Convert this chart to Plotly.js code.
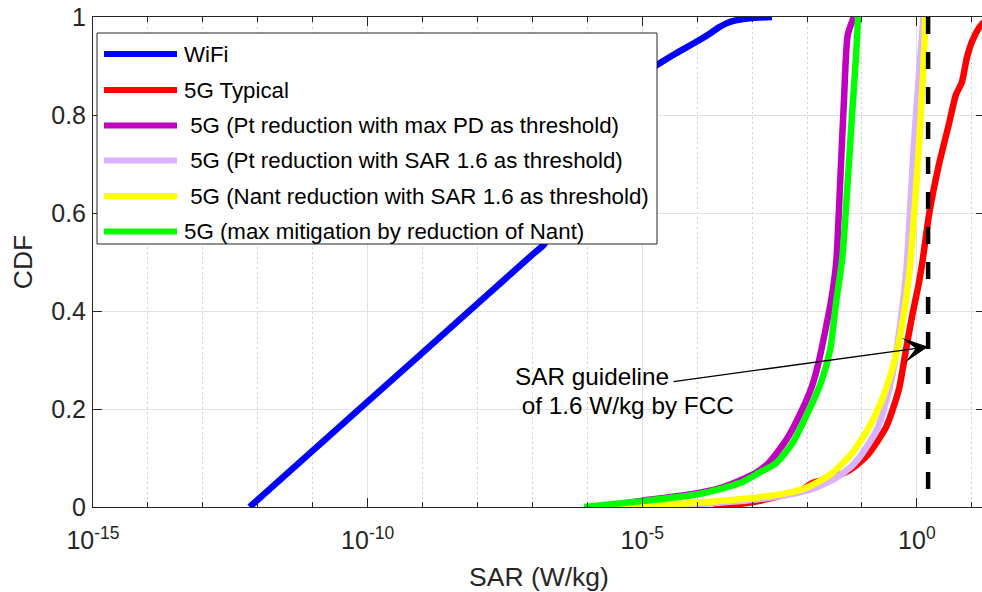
<!DOCTYPE html>
<html>
<head>
<meta charset="utf-8">
<script src="https://cdn.plot.ly/plotly-3.0.1.min.js"></script>
<style>html,body{margin:0;padding:0;overflow:hidden;background:#fff}</style>
</head>
<body>
<div id="chart"></div>
<script>
// ---- data ----
const wifiSAR = [7.1e-13, 1e-10, 1e-8, 1e-7, 1.6e-7, 3.2e-7, 1e-6, 3.2e-6, 7.9e-6, 1.6e-5, 4.0e-5, 9.5e-5, 1.8e-4, 2.5e-4, 3.4e-4, 5.0e-4, 1e-3, 2.3e-3];
const wifiCDF = [0, 0.215, 0.415, 0.515, 0.535, 0.59, 0.69, 0.80, 0.865, 0.897, 0.925, 0.949, 0.968, 0.979, 0.987, 0.993, 0.998, 1.0];

const typicalSAR = [2.0e-4, 7.9e-4, 3.2e-3, 7.9e-3, 1.26e-2, 2.5e-2, 5.1e-2, 8.9e-2, 0.135, 0.275, 0.468, 0.631, 0.813, 1.086, 1.26, 1.66, 2.51, 3.8, 5.13, 6.6, 8.1, 10, 13.5, 20];
const typicalCDF = [0, 0.008, 0.022, 0.035, 0.049, 0.058, 0.071, 0.09, 0.11, 0.163, 0.239, 0.32, 0.388, 0.457, 0.5, 0.596, 0.698, 0.78, 0.841, 0.867, 0.916, 0.949, 0.978, 1.0];

const ptPdSAR = [1.6e-6, 1e-5, 7.9e-5, 2.5e-4, 6.3e-4, 1.26e-3, 2.0e-3, 4.2e-3, 8.1e-3, 1.26e-2, 1.66e-2, 2.75e-2, 3.4e-2, 4.0e-2, 4.7e-2, 5.5e-2, 7.1e-2];
const ptPdCDF = [0, 0.013, 0.026, 0.038, 0.055, 0.072, 0.09, 0.137, 0.198, 0.25, 0.3, 0.422, 0.5, 0.66, 0.83, 0.963, 1.0];

const ptSarSAR = [6.3e-6, 1e-4, 1.26e-3, 5e-3, 1.26e-2, 3.2e-2, 6.3e-2, 9.1e-2, 0.186, 0.282, 0.372, 0.452, 0.562, 0.661, 0.871, 1.12, 1.26, 1.32];
const ptSarCDF = [0, 0.006, 0.016, 0.026, 0.037, 0.058, 0.082, 0.102, 0.157, 0.22, 0.28, 0.34, 0.42, 0.5, 0.73, 0.9, 0.97, 1.0];

const nantSarSAR = [3.4e-6, 7.9e-5, 1.35e-3, 5.0e-3, 1.1e-2, 2.8e-2, 6.6e-2, 0.135, 0.229, 0.355, 0.468, 0.631, 0.776, 1.086, 1.32, 1.40, 1.41];
const nantSarCDF = [0, 0.008, 0.02, 0.03, 0.042, 0.068, 0.11, 0.163, 0.218, 0.28, 0.335, 0.422, 0.51, 0.733, 0.9, 0.97, 1.0];

const maxMitSAR = [8.7e-7, 1e-5, 7.9e-5, 1.8e-4, 6.3e-4, 1.35e-3, 2.75e-3, 5.4e-3, 9.5e-3, 1.78e-2, 2.63e-2, 3.4e-2, 4.4e-2, 5.4e-2, 6.6e-2, 7.8e-2, 8.5e-2];
const maxMitCDF = [0, 0.012, 0.024, 0.032, 0.05, 0.07, 0.09, 0.13, 0.184, 0.253, 0.32, 0.42, 0.51, 0.65, 0.8, 0.92, 1.0];

const guidelineSAR = [1.6, 1.6];
const guidelineCDF = [1, 0];

const seriesNames = ['WiFi', '5G Typical', ' 5G (Pt reduction with max PD as threshold)', ' 5G (Pt reduction with SAR 1.6 as threshold)', ' 5G (Nant reduction with SAR 1.6 as threshold)', '5G (max mitigation by reduction of Nant)'];
const seriesColors = ['#0000ff', '#ff0000', '#bf00bf', '#d9b3ff', '#ffff00', '#00ff00'];

const xTickVals = [1e-15, 1e-10, 1e-5, 1];
const xTickText = ['10<sup>-15</sup>', '10<sup>-10</sup>', '10<sup>-5</sup>', '10<sup>0</sup>'];
const xMinorVals = [1e-14, 1e-13, 1e-12, 1e-11, 1e-9, 1e-8, 1e-7, 1e-6, 1e-4, 1e-3, 1e-2, 1e-1, 10];
const yTickVals = [0, 0.2, 0.4, 0.6, 0.8, 1];
const yTickText = ['0', '0.2', '0.4', '0.6', '0.8', '1'];

const annotationLines = ['SAR guideline', '\u00a0of 1.6 W/kg by FCC'];
const arrowTipCDF = 0.327;

// ---- build ----
const FONT = 'Liberation Sans, Arial, Helvetica, sans-serif';
const xs = [wifiSAR, typicalSAR, ptPdSAR, ptSarSAR, nantSarSAR, maxMitSAR];
const ys = [wifiCDF, typicalCDF, ptPdCDF, ptSarCDF, nantSarCDF, maxMitCDF];

const traces = xs.map((x, i) => ({
  type: 'scatter', mode: 'lines', x: x, y: ys[i], name: seriesNames[i],
  line: {color: seriesColors[i], width: 6.5, shape: 'spline', smoothing: 0.6}, showlegend: false
}));
traces.push({
  type: 'scatter', mode: 'lines', x: guidelineSAR, y: guidelineCDF, name: 'FCC guideline',
  line: {color: '#000000', width: 4.5, dash: '17px,18px'}, showlegend: false
});

// custom legend (MATLAB-like)
const L = 93, T = 17, PW = 892, PH = 490;
const px = v => (v - L) / PW;
const py = v => (T + PH - v) / PH;
const legendRows = [54, 90, 125.5, 160.5, 196, 231.5];
const shapes = [{
  type: 'rect', xref: 'paper', yref: 'paper', layer: 'above',
  x0: px(97), x1: px(657), y0: py(244), y1: py(33),
  line: {color: '#262626', width: 1}, fillcolor: '#ffffff'
}];
const annotations = [];
seriesNames.forEach((n, i) => {
  shapes.push({type: 'line', xref: 'paper', yref: 'paper', layer: 'above',
    x0: px(104), x1: px(177), y0: py(legendRows[i]), y1: py(legendRows[i]),
    line: {color: seriesColors[i], width: 6}});
  annotations.push({xref: 'paper', yref: 'paper', x: px(182), y: py(legendRows[i]),
    xanchor: 'left', yanchor: 'middle', showarrow: false,
    text: n.replace(/^ /, '\u00a0'), font: {family: FONT, size: 22.3, color: '#000000'}});
});
annotations.push({xref: 'x', yref: 'y', x: Math.log10(guidelineSAR[0]), y: arrowTipCDF,
  axref: 'pixel', ayref: 'pixel', ax: -256, ay: 35, text: '', showarrow: true,
  arrowhead: 3, arrowsize: 3.2, arrowwidth: 1.3, arrowcolor: '#000000', standoff: 0});
annotations.push({xref: 'paper', yref: 'paper', x: px(513), y: py(376), xanchor: 'left', yanchor: 'middle',
  showarrow: false, text: annotationLines[0], font: {family: FONT, size: 24.3, color: '#000000'}});
annotations.push({xref: 'paper', yref: 'paper', x: px(513), y: py(405), xanchor: 'left', yanchor: 'middle',
  showarrow: false, text: annotationLines[1], font: {family: FONT, size: 24.3, color: '#000000'}});

const axisCommon = {
  ticks: 'inside', ticklen: 9, tickwidth: 1, tickcolor: '#262626',
  showline: true, linecolor: '#262626', linewidth: 1, mirror: 'ticks',
  showgrid: true, gridcolor: '#e2e2e2', gridwidth: 1, zeroline: false,
  tickfont: {family: FONT, size: 25, color: '#262626'}
};

const layout = {
  width: 985, height: 592,
  margin: {l: L, r: 0, t: T, b: 592 - T - PH, pad: 0},
  paper_bgcolor: '#ffffff', plot_bgcolor: '#ffffff',
  font: {family: FONT, color: '#262626'},
  xaxis: Object.assign({}, axisCommon, {
    type: 'log', range: [-15, 1.24], tickmode: 'array', tickvals: xTickVals, ticktext: xTickText,
    ticklabelstandoff: 11,
    title: {text: 'SAR (W/kg)', font: {family: FONT, size: 26.5, color: '#262626'}, standoff: 16},
    minor: {tickmode: 'array', tickvals: xMinorVals, ticks: 'inside', ticklen: 5, tickwidth: 1, tickcolor: '#262626',
      showgrid: true, gridcolor: '#cfcfcf', gridwidth: 1, griddash: '2px,3px'}
  }),
  yaxis: Object.assign({}, axisCommon, {
    range: [0, 1], tickmode: 'array', tickvals: yTickVals, ticktext: yTickText,
    ticklabelstandoff: 1,
    title: {text: 'CDF', font: {family: FONT, size: 26.5, color: '#262626'}, standoff: 10}
  }),
  shapes: shapes,
  annotations: annotations,
  showlegend: false
};

Plotly.newPlot('chart', traces, layout, {displayModeBar: false, staticPlot: true});
</script>
</body>
</html>
